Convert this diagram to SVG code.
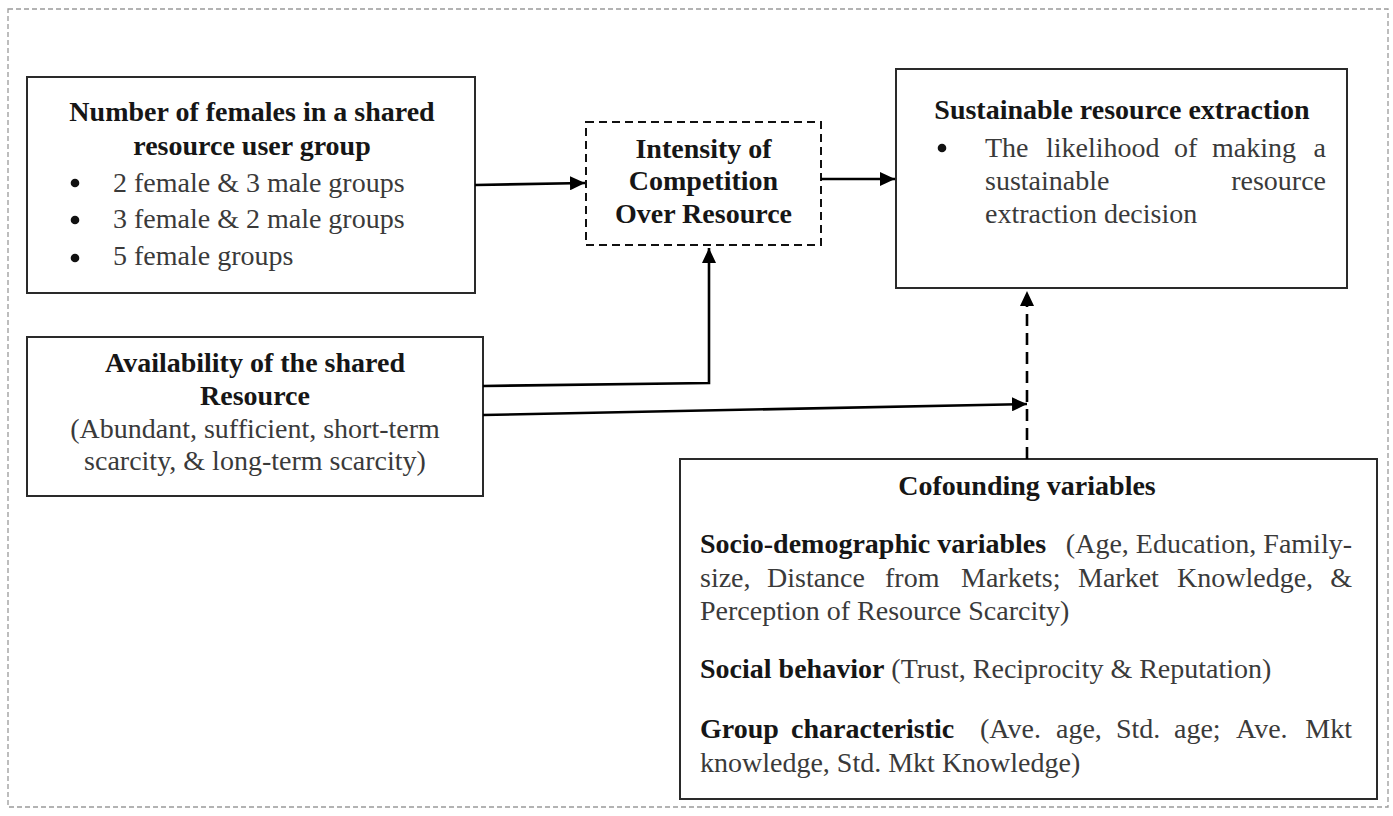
<svg xmlns="http://www.w3.org/2000/svg" width="1393" height="816" viewBox="0 0 1393 816">
<defs>
<style>
.box{fill:#fff;stroke:#2a2a2a;stroke-width:2}
.dbox{fill:#fff;stroke:#111;stroke-width:2;stroke-dasharray:8 5}
.t{font-family:"Liberation Serif","Times New Roman",serif;font-size:28px}
.b{font-weight:bold;fill:#161616}
.n{fill:#3a3a3a}
.c{text-anchor:middle}
.e{text-anchor:end}
.conn{fill:none;stroke:#000;stroke-width:2.6}
.dash{stroke-dasharray:12 7}
</style>
<marker id="arr" markerUnits="userSpaceOnUse" markerWidth="16" markerHeight="14" refX="15" refY="7" orient="auto">
<path d="M0,0 L15,7 L0,14 z" fill="#000"/>
</marker>
</defs>
<rect width="1393" height="816" fill="#fff"/>
<rect x="8" y="9" width="1380" height="798" fill="none" stroke="#9a9a9a" stroke-width="1.3" stroke-dasharray="5 3"/>

<g id="node-females">
<rect class="box" x="27" y="77" width="448" height="216"/>
<text class="t b c" x="252" y="121">Number of females in a shared</text>
<text class="t b c" x="252" y="155">resource user group</text>
<circle cx="75" cy="183" r="4.3" fill="#111"/>
<circle cx="75" cy="220" r="4.3" fill="#111"/>
<circle cx="75" cy="258" r="4.3" fill="#111"/>
<text class="t n" x="113" y="192">2 female &amp; 3 male groups</text>
<text class="t n" x="113" y="228">3 female &amp; 2 male groups</text>
<text class="t n" x="113" y="265">5 female groups</text>
</g>

<g id="node-intensity">
<rect class="dbox" x="586" y="122" width="235" height="123"/>
<text class="t b c" x="703.5" y="158">Intensity of</text>
<text class="t b c" x="703.5" y="190">Competition</text>
<text class="t b c" x="703.5" y="223">Over Resource</text>
</g>

<g id="node-sustainable">
<rect class="box" x="896" y="69" width="451" height="219"/>
<text class="t b c" x="1122" y="119">Sustainable resource extraction</text>
<circle cx="942" cy="148" r="4.3" fill="#111"/>
<text class="t n" y="157"><tspan x="985">The</tspan><tspan x="1046">likelihood</tspan><tspan x="1174">of</tspan><tspan x="1212">making</tspan></text>
<text class="t n e" x="1326" y="157">a</text>
<text class="t n" x="985" y="190">sustainable</text>
<text class="t n e" x="1326" y="190">resource</text>
<text class="t n" x="985" y="223">extraction decision</text>
</g>

<g id="node-availability">
<rect class="box" x="27" y="337" width="456" height="159"/>
<text class="t b c" x="255" y="372">Availability of the shared</text>
<text class="t b c" x="255" y="405">Resource</text>
<text class="t n c" x="255" y="438">(Abundant, sufficient, short-term</text>
<text class="t n c" x="255" y="470">scarcity, &amp; long-term scarcity)</text>
</g>

<g id="node-cofounding">
<rect class="box" x="680" y="459" width="697" height="340"/>
<text class="t b c" x="1027" y="495">Cofounding variables</text>
<text class="t b" x="700" y="553">Socio-demographic variables</text>
<text class="t n e" x="1352" y="553">(Age, Education, Family-</text>
<text class="t n" y="587"><tspan x="700">size,</tspan><tspan x="767">Distance</tspan><tspan x="885">from</tspan><tspan x="961">Markets;</tspan><tspan x="1078">Market</tspan><tspan x="1177">Knowledge,</tspan></text>
<text class="t n e" x="1352" y="587">&amp;</text>
<text class="t n" x="700" y="620">Perception of Resource Scarcity)</text>
<text class="t" x="700" y="678"><tspan class="b">Social behavior</tspan><tspan class="n"> (Trust, Reciprocity &amp; Reputation)</tspan></text>
<text class="t b" y="738"><tspan x="700">Group</tspan><tspan x="791">characteristic</tspan></text>
<text class="t n" y="738"><tspan x="980">(Ave.</tspan><tspan x="1056">age,</tspan><tspan x="1116">Std.</tspan><tspan x="1174">age;</tspan><tspan x="1236">Ave.</tspan></text>
<text class="t n e" x="1352" y="738">Mkt</text>
<text class="t n" x="700" y="772">knowledge, Std. Mkt Knowledge)</text>
</g>

<g id="connectors">
<path class="conn" d="M475,185 L585,183" marker-end="url(#arr)"/>
<path class="conn" d="M821,179 L895,179" marker-end="url(#arr)"/>
<path class="conn" d="M483,386 L709,383 L709,248" marker-end="url(#arr)"/>
<path class="conn" d="M483,415 L1027,404" marker-end="url(#arr)"/>
<path class="conn dash" d="M1027,459 L1027,291" marker-end="url(#arr)"/>
</g>
</svg>
